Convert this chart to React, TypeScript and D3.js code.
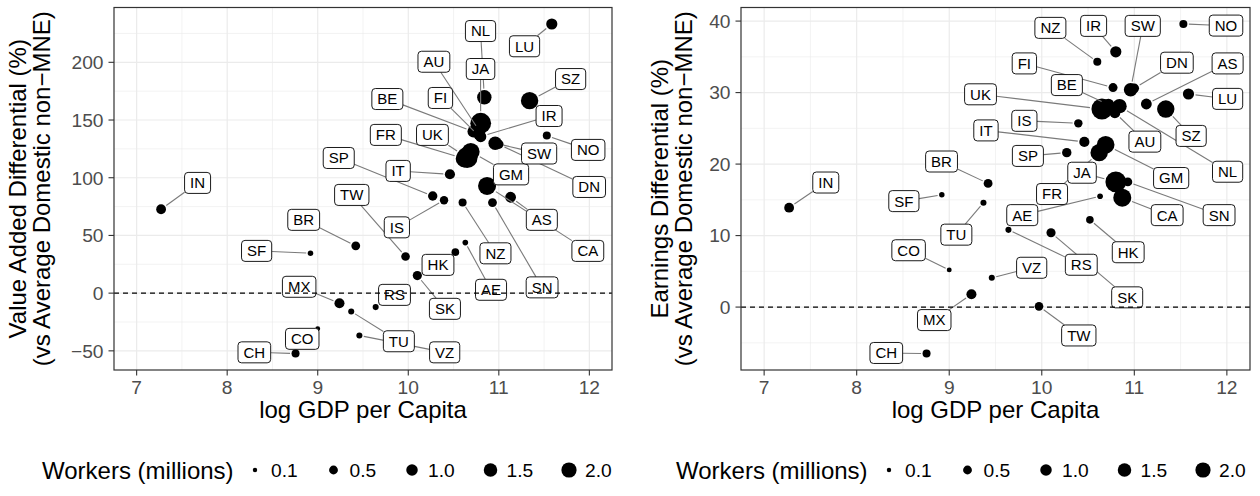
import React, { useEffect, useRef } from "react";
import * as d3 from "d3";

// Country codes and their values
const countries = ["IN","SF","BR","MX","TU","CO","CH","VZ","RS","TW","SK","HK","AE","IS","SP","IT","NZ","SN","AS","CA","GM","FR","UK","JA","NL","FI","BE","AU","IR","SW","DN","NO","SZ","LU"];
const logGdpPerCapita = [7.27, 8.92, 9.42, 9.24, 9.37, 9.0, 8.755, 9.46, 9.64, 9.97, 10.1, 10.52, 10.63, 10.395, 10.27, 10.46, 10.6, 10.93, 11.13, 10.87, 10.69, 10.62, 10.65, 10.8, 10.84, 10.77, 10.72, 10.79, 10.8, 10.96, 11.0, 11.53, 11.34, 11.585];
const valueAddedDiff = [72.7, 34.6, 41, -8.7, -15.9, -30.9, -52.3, -36.7, -12.1, 31.7, 15.2, 35.5, 43.8, 80.5, 84.2, 103, 78.6, 78.5, 83.1, 92.9, 122.5, 116.5, 117.5, 147.2, 169.7, 137, 140, 140, 135.6, 129.9, 129, 136.5, 166.8, 233.2];
const earningsDiff = [13.9, 15.7, 17.3, 1.8, 14.6, 5.2, -6.5, 4.1, 10.8, 0.1, 10.4, 12.2, 15.5, 25.7, 21.6, 23.1, 34.3, 17.5, 28.4, 15.3, 22.7, 21.6, 27.7, 17.5, 28.1, 30.7, 28.3, 27.2, 35.7, 30.4, 30.6, 39.6, 27.7, 29.8];
const workersMillions = [0.66, 0.15, 0.5, 0.7, 0.19, 0.12, 0.39, 0.19, 0.19, 0.47, 0.55, 0.34, 0.16, 0.44, 0.59, 0.73, 0.39, 0.5, 0.85, 3.0, 2.9, 2.76, 4.3, 4.2, 1.75, 0.53, 1.1, 0.9, 0.93, 1.52, 0.6, 0.39, 2.76, 0.93];

// Repelled label centres (data units), one per country
const vaLabelX = [7.673, 8.325, 8.845, 8.795, 9.896, 8.829, 8.3, 10.402, 9.848, 9.376, 10.405, 10.328, 10.914, 9.874, 9.232, 9.888, 10.963, 11.478, 11.475, 11.983, 11.135, 9.752, 10.267, 10.798, 10.798, 10.355, 9.769, 10.283, 11.555, 11.445, 11.998, 11.987, 11.793, 11.284];
const vaLabelY = [95.5, 36.6, 63.5, 5.5, -41.7, -39.6, -51.3, -51.3, -1.5, 85.1, -13.6, 24.5, 2.9, 57.0, 117.1, 105.9, 34.5, 5.0, 63.5, 36.6, 102.9, 137.1, 137.1, 194.2, 227.1, 169.1, 168.2, 200.5, 153.5, 121.0, 92.0, 124.1, 185.5, 213.9];
const earnLabelX = [7.666, 8.51, 8.917, 8.838, 9.077, 8.561, 8.32, 9.891, 10.427, 10.4, 10.923, 10.934, 9.789, 9.812, 9.85, 9.397, 10.093, 11.916, 12.008, 11.355, 11.398, 10.111, 9.338, 10.435, 12.008, 9.812, 10.271, 11.114, 10.56, 11.091, 11.46, 11.991, 11.614, 12.008];
const earnLabelY = [17.42, 14.82, 20.36, -1.82, 10.13, 7.95, -6.42, 5.5, 5.92, -3.97, 1.36, 7.67, 12.86, 26.05, 21.14, 24.71, 39.05, 12.86, 34.08, 12.86, 18.05, 15.81, 29.76, 18.79, 18.93, 34.08, 31.05, 23.14, 39.33, 39.33, 34.18, 39.37, 23.94, 29.12];

const xTicks = [7, 8, 9, 10, 11, 12];
const xMinorTicks = [7.5, 8.5, 9.5, 10.5, 11.5];
const vaTicks = [-50, 0, 50, 100, 150, 200];
const vaMinorTicks = [-25, 25, 75, 125, 175, 225];
const earnTicks = [0, 10, 20, 30, 40];
const earnMinorTicks = [-5, 5, 15, 25, 35];
const legendBreaks = [0.1, 0.5, 1.0, 1.5, 2.0];

const W = 1260;
const H = 496;
const TOP = 7.5;
const BOTTOM = 370;
const X_DOMAIN: [number, number] = [6.75, 12.25];
const FONT = "'Liberation Sans', Arial, Helvetica, sans-serif";
const GRID = "#EBEBEB";
const DARK = "#333333";
const TICK_TEXT = "#4D4D4D";
const TITLE_SIZE = 24;
const TICK_SIZE = 19.2;

// Area-style size scale: radius grows with sqrt of workers above a floor
const W_FLOOR = 0.08;
const rLin = d3.scaleLinear().domain([0, Math.sqrt(4.3 - W_FLOOR)]).range([1.6, 10.5]);
const radius = (w: number) => rLin(Math.sqrt(Math.max(w - W_FLOOR, 0)));

type PanelCfg = {
  left: number;
  right: number;
  yDomain: [number, number];
  yValues: number[];
  labelX: number[];
  labelY: number[];
  yTicks: number[];
  yMinor: number[];
  titleLines: string[];
  titleX: number[];
};

function drawPanel(svg: any, p: PanelCfg) {
  const x = d3.scaleLinear().domain(X_DOMAIN).range([p.left, p.right]);
  const y = d3.scaleLinear().domain(p.yDomain).range([BOTTOM, TOP]);
  const g = svg.append("g");

  // grid
  g.selectAll(null).data(xMinorTicks).join("line")
    .attr("x1", (d: number) => x(d)).attr("x2", (d: number) => x(d))
    .attr("y1", TOP).attr("y2", BOTTOM).attr("stroke", GRID).attr("stroke-width", 0.6);
  g.selectAll(null).data(p.yMinor).join("line")
    .attr("y1", (d: number) => y(d)).attr("y2", (d: number) => y(d))
    .attr("x1", p.left).attr("x2", p.right).attr("stroke", GRID).attr("stroke-width", 0.6);
  g.selectAll(null).data(xTicks).join("line")
    .attr("x1", (d: number) => x(d)).attr("x2", (d: number) => x(d))
    .attr("y1", TOP).attr("y2", BOTTOM).attr("stroke", GRID).attr("stroke-width", 1.2);
  g.selectAll(null).data(p.yTicks).join("line")
    .attr("y1", (d: number) => y(d)).attr("y2", (d: number) => y(d))
    .attr("x1", p.left).attr("x2", p.right).attr("stroke", GRID).attr("stroke-width", 1.2);

  // points
  const idx = d3.range(countries.length);
  g.selectAll(null).data(idx).join("circle")
    .attr("cx", (i: number) => x(logGdpPerCapita[i]))
    .attr("cy", (i: number) => y(p.yValues[i]))
    .attr("r", (i: number) => radius(workersMillions[i]))
    .attr("fill", "#000");

  // labels: measure text first, then segments and boxes
  const labelG = g.append("g");
  const segG = labelG.append("g");
  const boxG = labelG.append("g");
  const LH = 21;
  idx.forEach((i: number) => {
    const lx = x(p.labelX[i]);
    const ly = y(p.labelY[i]);
    const lg = boxG.append("g");
    const rect = lg.append("rect");
    const t = lg.append("text")
      .attr("x", lx).attr("y", ly).attr("dy", "0.36em")
      .attr("text-anchor", "middle").attr("font-size", 15).attr("fill", "#000")
      .text(countries[i]);
    const tw = (t.node() as SVGTextElement).getComputedTextLength();
    const bw = tw + 11;
    rect.attr("x", lx - bw / 2).attr("y", ly - LH / 2).attr("width", bw).attr("height", LH)
      .attr("rx", 3.5).attr("fill", "#fff").attr("stroke", "#000").attr("stroke-width", 0.9);

    // segment from box edge to point edge
    const px = x(logGdpPerCapita[i]);
    const py = y(p.yValues[i]);
    const dx = px - lx;
    const dy = py - ly;
    const dist = Math.hypot(dx, dy);
    if (dist < 1) return;
    const tx = dx !== 0 ? (bw / 2) / Math.abs(dx) : Infinity;
    const ty = dy !== 0 ? (LH / 2) / Math.abs(dy) : Infinity;
    const tEdge = Math.min(tx, ty);
    if (tEdge >= 1) return;
    const sx = lx + dx * tEdge;
    const sy = ly + dy * tEdge;
    const back = (radius(workersMillions[i]) + 1.5) / dist;
    const ex = px - dx * back;
    const ey = py - dy * back;
    const segLen = Math.hypot(ex - sx, ey - sy);
    if (segLen < 4 || (1 - back) <= tEdge) return;
    segG.append("line")
      .attr("x1", sx).attr("y1", sy).attr("x2", ex).attr("y2", ey)
      .attr("stroke", "#7a7a7a").attr("stroke-width", 1.1);
  });

  // zero reference, drawn above the labels
  g.append("line")
    .attr("x1", p.left).attr("x2", p.right).attr("y1", y(0)).attr("y2", y(0))
    .attr("stroke", "#000").attr("stroke-width", 1.1).attr("stroke-dasharray", "5,4");

  // panel border
  g.append("rect")
    .attr("x", p.left).attr("y", TOP).attr("width", p.right - p.left).attr("height", BOTTOM - TOP)
    .attr("fill", "none").attr("stroke", DARK).attr("stroke-width", 1.2);

  // x axis ticks and labels
  g.selectAll(null).data(xTicks).join("line")
    .attr("x1", (d: number) => x(d)).attr("x2", (d: number) => x(d))
    .attr("y1", BOTTOM).attr("y2", BOTTOM + 5.5).attr("stroke", DARK).attr("stroke-width", 1.1);
  g.selectAll(null).data(xTicks).join("text")
    .attr("x", (d: number) => x(d)).attr("y", BOTTOM + 23.5)
    .attr("text-anchor", "middle").attr("font-size", TICK_SIZE).attr("fill", TICK_TEXT)
    .text((d: number) => d3.format("d")(d));

  // y axis ticks and labels
  g.selectAll(null).data(p.yTicks).join("line")
    .attr("y1", (d: number) => y(d)).attr("y2", (d: number) => y(d))
    .attr("x1", p.left - 5.5).attr("x2", p.left).attr("stroke", DARK).attr("stroke-width", 1.1);
  g.selectAll(null).data(p.yTicks).join("text")
    .attr("x", p.left - 10.5).attr("y", (d: number) => y(d)).attr("dy", "0.36em")
    .attr("text-anchor", "end").attr("font-size", TICK_SIZE).attr("fill", TICK_TEXT)
    .text((d: number) => d3.format("d")(d).replace("-", "\u2212"));

  // axis titles
  g.append("text")
    .attr("x", (p.left + p.right) / 2).attr("y", 418)
    .attr("text-anchor", "middle").attr("font-size", TITLE_SIZE).attr("fill", "#000")
    .text("log GDP per Capita");
  p.titleLines.forEach((line, k) => {
    g.append("text")
      .attr("transform", `translate(${p.titleX[k]},${(TOP + BOTTOM) / 2}) rotate(-90)`)
      .attr("text-anchor", "middle").attr("font-size", TITLE_SIZE).attr("fill", "#000")
      .text(line);
  });
}

function drawLegend(svg: any, x0: number) {
  const g = svg.append("g");
  const cy = 470;
  g.append("text").attr("x", x0).attr("y", cy).attr("dy", "0.36em")
    .attr("font-size", TITLE_SIZE).attr("fill", "#000").text("Workers (millions)");
  const step = d3.scaleLinear().domain([0, legendBreaks.length - 1]).range([x0 + 213, x0 + 527]);
  legendBreaks.forEach((b, k) => {
    const cx = step(k);
    g.append("circle").attr("cx", cx).attr("cy", cy).attr("r", radius(b)).attr("fill", "#000");
    g.append("text").attr("x", cx + 16).attr("y", cy).attr("dy", "0.36em")
      .attr("font-size", TICK_SIZE).attr("fill", "#000").text(d3.format(".1f")(b));
  });
}

export default function App() {
  const ref = useRef<SVGSVGElement>(null);
  useEffect(() => {
    document.body.style.margin = "0";
    const svg = d3.select(ref.current);
    svg.selectAll("*").remove();
    svg.append("rect").attr("width", W).attr("height", H).attr("fill", "#fff");
    drawPanel(svg, {
      left: 114, right: 612,
      yDomain: [-66.6, 247.5],
      yValues: valueAddedDiff,
      labelX: vaLabelX, labelY: vaLabelY,
      yTicks: vaTicks, yMinor: vaMinorTicks,
      titleLines: ["Value Added Differential (%)", "(vs Average Domestic non\u2212MNE)"],
      titleX: [26, 50],
    });
    drawPanel(svg, {
      left: 741, right: 1250,
      yDomain: [-8.8, 41.9],
      yValues: earningsDiff,
      labelX: earnLabelX, labelY: earnLabelY,
      yTicks: earnTicks, yMinor: earnMinorTicks,
      titleLines: ["Earnings Differential (%)", "(vs Average Domestic non\u2212MNE)"],
      titleX: [668, 692],
    });
    drawLegend(svg, 42);
    drawLegend(svg, 676);
  }, []);
  return (
    <svg ref={ref} width={W} height={H} style={{ display: "block" }} fontFamily={FONT} />
  );
}
